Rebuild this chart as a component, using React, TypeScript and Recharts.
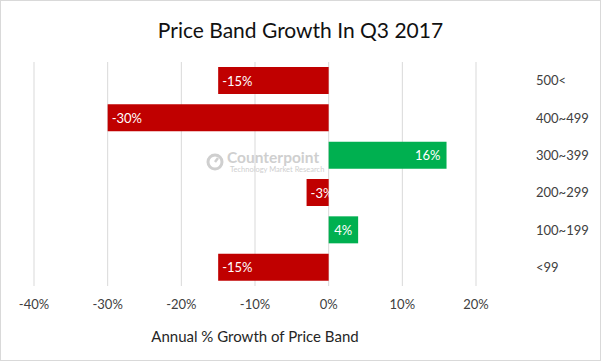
import React from 'react';
import { BarChart, Bar, XAxis, YAxis, CartesianGrid, Cell, LabelList, Label } from 'recharts';

const categories = ['500<', '400~499', '300~399', '200~299', '100~199', '<99'];
const growth = [-15, -30, 16, -3, 4, -15];
const xTicks = [-40, -30, -20, -10, 0, 10, 20];

const chartData = categories.map((band, i) => ({ band, value: growth[i] }));

const FONT = 'Lato, "Open Sans", sans-serif';

const renderValueLabel = (props: any) => {
  const { x, y, width, height, value } = props;
  const end = Number(x) + Number(width);
  const neg = value < 0;
  return (
    <text
      x={neg ? end + 4 : end - 6}
      y={Number(y) + Number(height) / 2}
      fill="#ffffff"
      fontSize={13}
      fontFamily={FONT}
      textAnchor={neg ? 'start' : 'end'}
      dominantBaseline="central"
    >
      {`${value}%`}
    </text>
  );
};

export default function App() {
  return (
    <div
      style={{
        position: 'absolute',
        left: 0,
        top: 0,
        width: 601,
        height: 361,
        boxSizing: 'border-box',
        border: '1px solid #d9d9d9',
        background: '#fff',
        fontFamily: FONT,
      }}
    >
      <div
        style={{
          position: 'absolute',
          top: 16,
          left: 0,
          width: 599,
          textAlign: 'center',
          fontSize: 21,
          color: '#111',
        }}
      >
        Price Band Growth In Q3 2017
      </div>
      {/* faint watermark */}
      <div style={{ position: 'absolute', left: 205, top: 148, color: '#cfcfcf', display: 'flex', alignItems: 'center' }}>
        <svg width="18" height="18" viewBox="0 0 18 18">
          <circle cx="9" cy="9" r="7" fill="none" stroke="#cfcfcf" strokeWidth="3" />
          <line x1="9" y1="9" x2="12" y2="5" stroke="#cfcfcf" strokeWidth="2.5" />
        </svg>
        <div style={{ marginLeft: 3 }}>
          <div style={{ fontSize: 15.5, fontWeight: 700, lineHeight: '16px' }}>Counterpoint</div>
          <div style={{ fontSize: 7.5, lineHeight: '9px', marginLeft: 3 }}>Technology Market Research</div>
        </div>
      </div>
      <BarChart
        width={599}
        height={359}
        layout="vertical"
        data={chartData}
        margin={{ top: 61, right: 24, left: 33, bottom: 9 }}
        style={{ position: 'absolute', left: 0, top: 0 }}
      >
        <CartesianGrid horizontal={false} stroke="#d9d9d9" />
        <XAxis
          type="number"
          dataKey="value"
          domain={[-40, 20]}
          ticks={xTicks}
          tickFormatter={(v: number) => `${v}%`}
          axisLine={false}
          tickLine={false}
          tickMargin={8}
          height={65}
          tick={{ fill: '#404040', fontSize: 13, fontFamily: FONT }}
        >
          <Label
            value="Annual % Growth of Price Band"
            position="insideBottom"
            offset={9}
            style={{ fill: '#262626', fontSize: 15, fontFamily: FONT }}
          />
        </XAxis>
        <YAxis
          type="category"
          dataKey="band"
          orientation="right"
          axisLine={false}
          tickLine={false}
          tickSize={0}
          tickMargin={60}
          width={100}
          tick={{ fill: '#404040', fontSize: 13, fontFamily: FONT, textAnchor: 'start' }}
        />
        <Bar dataKey="value" barSize={27} isAnimationActive={false}>
          {chartData.map((d, i) => (
            <Cell key={i} fill={d.value < 0 ? '#c00000' : '#00b050'} />
          ))}
          <LabelList dataKey="value" content={renderValueLabel} />
        </Bar>
      </BarChart>
    </div>
  );
}
